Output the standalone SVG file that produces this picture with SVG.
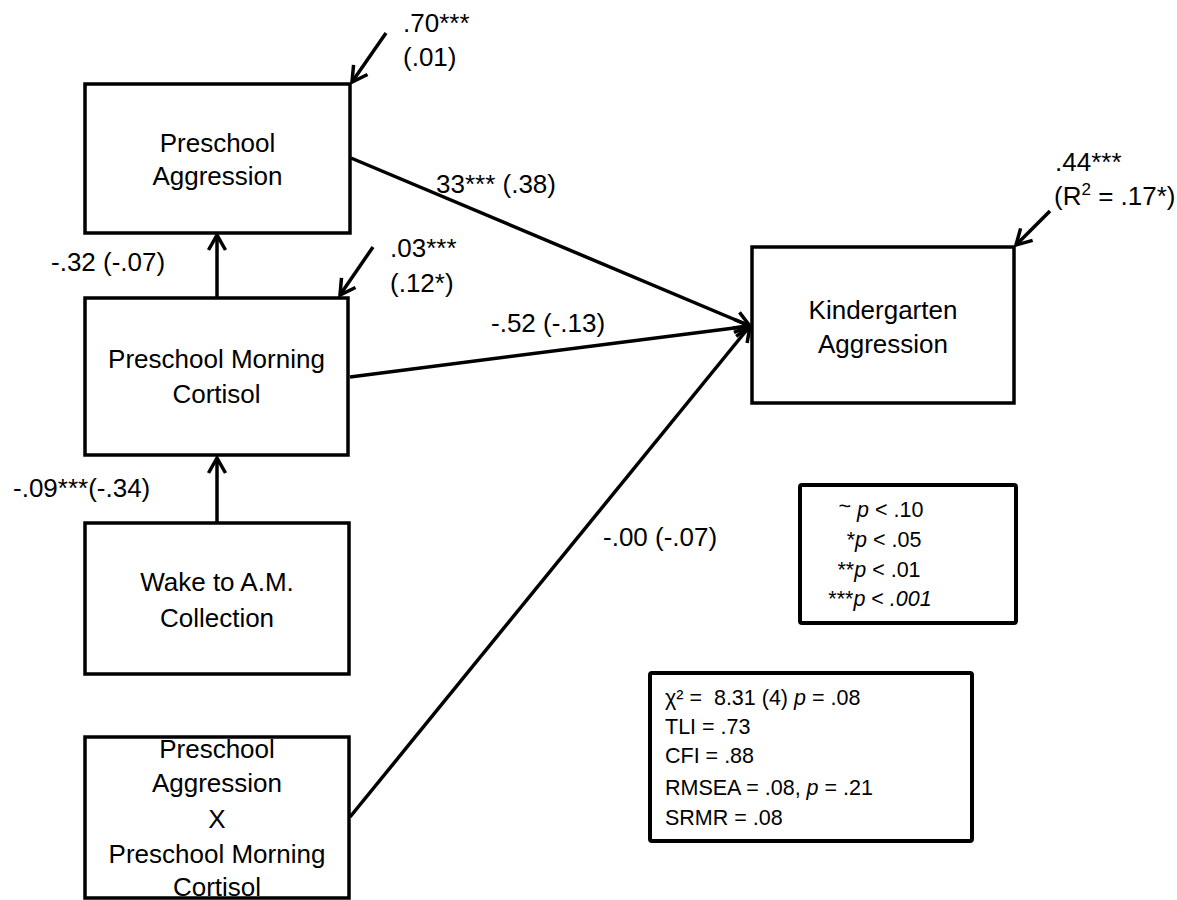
<svg xmlns="http://www.w3.org/2000/svg" width="1177" height="900" viewBox="0 0 1177 900">
  <style>
    .box { fill: #fff; stroke: #000; stroke-width: 3.5; }
    .lg { fill: #fff; stroke: #000; stroke-width: 4; }
    .nt { font-family: "Liberation Sans", Arial, sans-serif; font-size: 26px; text-anchor: middle; fill: #000; }
    .lb { font-family: "Liberation Sans", Arial, sans-serif; font-size: 26px; fill: #000; }
    .sm { font-family: "Liberation Sans", Arial, sans-serif; font-size: 21.5px; fill: #000; }
    .edge { fill: none; stroke: #000; stroke-width: 3.5; marker-end: url(#arr); }
  </style>
  <defs>
    <marker id="arr" markerUnits="userSpaceOnUse" markerWidth="40" markerHeight="40" viewBox="-20 -20 40 40" refX="0" refY="0" orient="auto" overflow="visible">
      <path d="M-15,-8.5 L0,0 L-15,8.5" fill="none" stroke="#000" stroke-width="3.5"/>
    </marker>
  </defs>
  <rect width="1177" height="900" fill="#fff"/>

  <!-- paths and residual arrows -->
  <g id="connectors">
    <line class="edge" x1="351" y1="158" x2="750" y2="326"/>
    <line class="edge" x1="350" y1="377" x2="750" y2="326"/>
    <line class="edge" x1="350" y1="817" x2="750" y2="326"/>
    <line class="edge" x1="217" y1="523" x2="217" y2="458"/>
    <line class="edge" x1="217" y1="298" x2="217" y2="235"/>
    <line class="edge" x1="386" y1="33" x2="352" y2="82"/>
    <line class="edge" x1="373" y1="247" x2="340" y2="295"/>
    <line class="edge" x1="1050" y1="211" x2="1016" y2="245"/>
  </g>

  <!-- path coefficients -->
  <g id="labels">
    <text class="lb" x="403" y="32">.70***</text>
    <text class="lb" x="403" y="66">(.01)</text>
    <text class="lb" x="436" y="193">33*** (.38)</text>
    <text class="lb" x="51" y="271">-.32 (-.07)</text>
    <text class="lb" x="390" y="257">.03***</text>
    <text class="lb" x="390" y="292">(.12*)</text>
    <text class="lb" x="491" y="332">-.52 (-.13)</text>
    <text class="lb" x="13" y="497">-.09***(-.34)</text>
    <text class="lb" x="603" y="546">-.00 (-.07)</text>
    <text class="lb" x="1055" y="171">.44***</text>
    <text class="lb" x="1054" y="205">(R<tspan font-size="17" dy="-10">2</tspan><tspan dy="10"> = .17*)</tspan></text>
  </g>

  <g id="node-preschool-aggression">
    <rect class="box" x="85" y="84" width="265" height="149"/>
    <text class="nt" x="217.5" y="152">Preschool</text>
    <text class="nt" x="217.5" y="185">Aggression</text>
  </g>

  <g id="node-morning-cortisol">
    <rect class="box" x="85" y="298" width="263" height="157"/>
    <text class="nt" x="216.5" y="368">Preschool Morning</text>
    <text class="nt" x="216.5" y="403">Cortisol</text>
  </g>

  <g id="node-wake">
    <rect class="box" x="85" y="523" width="264" height="151"/>
    <text class="nt" x="217" y="591">Wake to A.M.</text>
    <text class="nt" x="217" y="627">Collection</text>
  </g>

  <g id="node-interaction">
    <text class="nt" x="217" y="758">Preschool</text>
    <text class="nt" x="217" y="792">Aggression</text>
    <text class="nt" x="217" y="828">X</text>
    <text class="nt" x="217" y="863">Preschool Morning</text>
    <text class="nt" x="217" y="896">Cortisol</text>
    <rect x="85" y="737" width="264" height="161" fill="none" stroke="#000" stroke-width="3.5"/>
  </g>

  <g id="node-kindergarten-aggression">
    <rect class="box" x="752" y="247" width="262" height="156"/>
    <text class="nt" x="883" y="319">Kindergarten</text>
    <text class="nt" x="883" y="353">Aggression</text>
  </g>

  <g id="significance-key">
    <rect class="lg" x="800" y="485" width="216" height="138" rx="2"/>
    <text class="sm" x="881" y="517" text-anchor="middle"><tspan dy="-4">~</tspan><tspan dy="4"> </tspan><tspan font-style="italic">p</tspan> &lt; .10</text>
    <text class="sm" x="884" y="547" text-anchor="middle">*<tspan font-style="italic">p</tspan> &lt; .05</text>
    <text class="sm" x="879" y="577" text-anchor="middle">**<tspan font-style="italic">p</tspan> &lt; .01</text>
    <text class="sm" x="880" y="606" text-anchor="middle">***<tspan font-style="italic">p</tspan> &lt; <tspan font-style="italic">.001</tspan></text>
  </g>

  <g id="fit-indices">
    <rect class="lg" x="650" y="673" width="322" height="168" rx="2"/>
    <text class="sm" x="665" y="705">χ² =&#160; 8.31 (4) <tspan font-style="italic">p</tspan> = .08</text>
    <text class="sm" x="665" y="734">TLI = .73</text>
    <text class="sm" x="665" y="763">CFI = .88</text>
    <text class="sm" x="665" y="795">RMSEA = .08, <tspan font-style="italic">p</tspan> = .21</text>
    <text class="sm" x="665" y="825">SRMR = .08</text>
  </g>
</svg>
